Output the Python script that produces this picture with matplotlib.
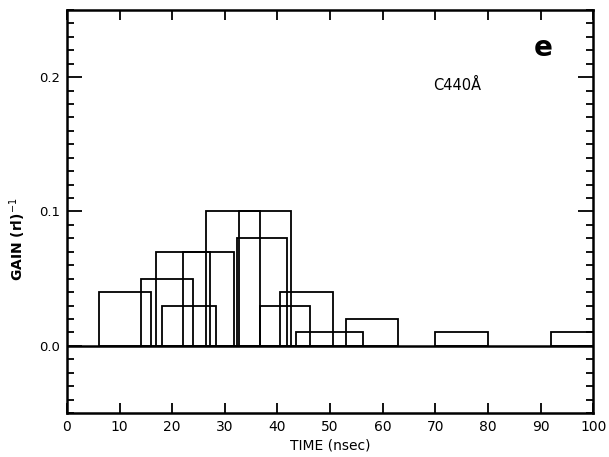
import matplotlib
matplotlib.use("Agg")
import matplotlib.pyplot as plt
from matplotlib.ticker import MultipleLocator, FixedLocator

plt.rcParams.update({'font.family': 'DejaVu Sans', 'font.size': 9})

# gain measurements: time window start (nsec), window length (nsec), gain (rl)^-1
start = [6, 14, 17, 18, 22, 26.5, 32.4, 32.7, 36.6, 40.5, 43.5, 53, 70, 92]
duration = [10, 10, 10.2, 10.3, 9.8, 10.1, 9.4, 9.8, 9.6, 10, 12.7, 10, 10, 10]
gain = [0.04, 0.05, 0.07, 0.03, 0.07, 0.10, 0.08, 0.10, 0.03, 0.04, 0.01, 0.02, 0.01, 0.01]

fig = plt.figure(figsize=(6.09, 4.57), dpi=100)
ax = fig.add_axes([0.110, 0.0963, 0.864, 0.882])

ax.bar(start, gain, width=duration, align='edge', fill=False,
       edgecolor='black', linewidth=1.3)
ax.axhline(0, color='black', linewidth=1.8)

ax.set_xlim(0, 100)
ax.set_ylim(-0.05, 0.25)

ax.xaxis.set_major_locator(MultipleLocator(10))
ax.yaxis.set_major_locator(FixedLocator([0.0, 0.1, 0.2]))
ax.yaxis.set_minor_locator(MultipleLocator(0.01))
ax.set_yticklabels(['0.0', '0.1', '0.2'])

ax.tick_params(axis='both', which='both', direction='in', top=True, right=True,
               width=1.3, colors='black')
ax.tick_params(axis='x', which='major', length=7, pad=5, labelsize=10)
ax.tick_params(axis='y', which='major', length=11, pad=5, labelsize=9.5)
ax.tick_params(axis='y', which='minor', length=5)

for s in ax.spines.values():
    s.set_linewidth(1.8)

ax.set_xlabel('TIME (nsec)', fontsize=10, labelpad=3)
ax.set_ylabel('GAIN (rl)$^{-1}$', fontsize=10, fontweight='bold')
ax.yaxis.set_label_coords(-0.075, 0.43)

ax.text(69.5, 0.194, 'C440Å', fontsize=10.5, ha='left', va='center')
ax.text(90.5, 0.222, 'e', fontsize=20, fontweight='bold', ha='center', va='center')

fig.savefig('out.png', dpi=100)
